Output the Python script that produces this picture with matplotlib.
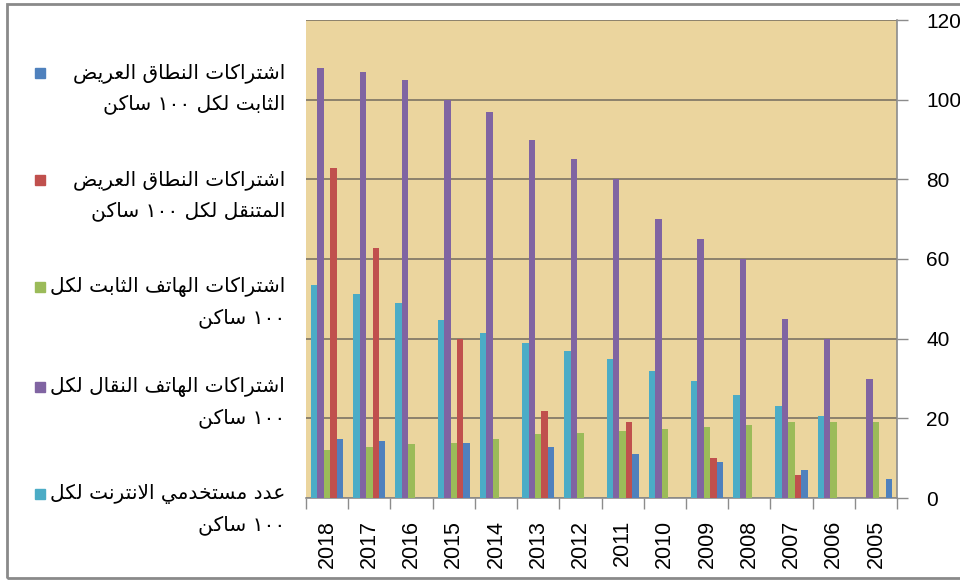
import numpy as np
import matplotlib
matplotlib.use('Agg')
import matplotlib.pyplot as plt
from matplotlib.patches import Rectangle

# data (per 100 inhabitants), years left to right as drawn
years = ['2018', '2017', '2016', '2015', '2014', '2013', '2012',
         '2011', '2010', '2009', '2008', '2007', '2006', '2005']
internet_users = [53.5, 51.3, 48.9, 44.7, 41.5, 39.0, 37.0, 34.8, 32.0, 29.3, 25.8, 23.2, 20.6, 0]
mobile_phone = [108, 107, 105, 100, 97, 90, 85, 80, 70, 65, 60, 45, 40, 30]
fixed_phone = [12.0, 12.9, 13.5, 13.7, 14.7, 16.0, 16.2, 16.8, 17.3, 17.9, 18.3, 19.0, 19.0, 19.0]
mobile_broadband = [82.8, 62.7, 0, 39.9, 0, 21.9, 0, 19.0, 0, 10.0, 0, 5.8, 0, 0]
fixed_broadband = [14.8, 14.4, 0, 13.7, 0, 12.9, 0, 11.0, 0, 9.0, 0, 7.0, 0, 4.8]

yticks = [0, 20, 40, 60, 80, 100, 120]

# legend labels (two lines each), top to bottom
legend_labels = [
    ['اشتراكات النطاق العريض', 'الثابت لكل ١٠٠ ساكن'],
    ['اشتراكات النطاق العريض', 'المتنقل لكل ١٠٠ ساكن'],
    ['اشتراكات الهاتف الثابت لكل', '١٠٠ ساكن'],
    ['اشتراكات الهاتف النقال لكل', '١٠٠ ساكن'],
    ['عدد مستخدمي الانترنت لكل', '١٠٠ ساكن'],
]

c_blue = '#4F81BD'
c_red = '#C0504D'
c_green = '#9BBB59'
c_purple = '#8064A2'
c_cyan = '#4BACC6'

# --- tiny arabic shaper: matplotlib has no shaping / bidi ---
FORMS = {
    'ا': ('\ufe8d', '\ufe8e', None, None),
    'ب': ('\ufe8f', '\ufe90', '\ufe91', '\ufe92'),
    'ت': ('\ufe95', '\ufe96', '\ufe97', '\ufe98'),
    'ث': ('\ufe99', '\ufe9a', '\ufe9b', '\ufe9c'),
    'خ': ('\ufea5', '\ufea6', '\ufea7', '\ufea8'),
    'د': ('\ufea9', '\ufeaa', None, None),
    'ر': ('\ufead', '\ufeae', None, None),
    'س': ('\ufeb1', '\ufeb2', '\ufeb3', '\ufeb4'),
    'ش': ('\ufeb5', '\ufeb6', '\ufeb7', '\ufeb8'),
    'ض': ('\ufebd', '\ufebe', '\ufebf', '\ufec0'),
    'ط': ('\ufec1', '\ufec2', '\ufec3', '\ufec4'),
    'ع': ('\ufec9', '\ufeca', '\ufecb', '\ufecc'),
    'ف': ('\ufed1', '\ufed2', '\ufed3', '\ufed4'),
    'ق': ('\ufed5', '\ufed6', '\ufed7', '\ufed8'),
    'ك': ('\ufed9', '\ufeda', '\ufedb', '\ufedc'),
    'ل': ('\ufedd', '\ufede', '\ufedf', '\ufee0'),
    'م': ('\ufee1', '\ufee2', '\ufee3', '\ufee4'),
    'ن': ('\ufee5', '\ufee6', '\ufee7', '\ufee8'),
    'ه': ('\ufee9', '\ufeea', '\ufeeb', '\ufeec'),
    'ي': ('\ufef1', '\ufef2', '\ufef3', '\ufef4'),
}
LAM_ALEF = ('\ufefb', '\ufefc', None, None)


def shape_word(word):
    toks = []
    i = 0
    while i < len(word):
        c = word[i]
        if c == 'ل' and i + 1 < len(word) and word[i + 1] == 'ا':
            toks.append(LAM_ALEF)
            i += 2
        else:
            toks.append(FORMS.get(c, (c, c, None, None)))
            i += 1
    out = []
    for k, f in enumerate(toks):
        prev = k > 0 and toks[k - 1][2] is not None
        nxt = k + 1 < len(toks) and f[2] is not None
        if prev and nxt:
            out.append(f[3])
        elif prev:
            out.append(f[1])
        elif nxt:
            out.append(f[2])
        else:
            out.append(f[0])
    return ''.join(reversed(out))


def rtl(line):
    words = line.split(' ')
    return ' '.join(w if w.isdigit() else shape_word(w) for w in reversed(words))


W, H = 960, 581
fig = plt.figure(figsize=(9.6, 5.81), dpi=100)
fig.patch.set_facecolor('white')

ax = fig.add_axes([306 / W, 83 / H, 591 / W, 478 / H])
ax.set_facecolor('#EBD59E')

x = np.arange(len(years))
w = 0.152
series = [(internet_users, c_cyan), (mobile_phone, c_purple), (fixed_phone, c_green),
          (mobile_broadband, c_red), (fixed_broadband, c_blue)]
for i, (vals, col) in enumerate(series):
    ax.bar(x + (i - 2) * w, vals, w, color=col, zorder=3, linewidth=0)

ax.set_xlim(-0.5, len(years) - 0.5)
ax.set_ylim(0, 120)
ax.yaxis.tick_right()
ax.set_yticks(yticks)
ax.set_yticklabels([str(v) for v in yticks], fontsize=15, family='Liberation Sans')
ax.tick_params(axis='y', direction='out', length=8, width=1, color='#8c8c8c', pad=13)
ax.yaxis.grid(True, color='#857b68', linewidth=1.3, zorder=1)
ax.set_axisbelow(True)

ax.set_xticks(x)
ax.set_xticklabels(years, rotation=90, fontsize=15.5, family='Liberation Sans')
ax.set_xticks(np.arange(-0.5, len(years)), minor=True)
ax.tick_params(axis='x', which='major', length=0, pad=16)
ax.tick_params(axis='x', which='minor', direction='out', length=8, width=1, color='#8c8c8c')

for s in ['top', 'left']:
    ax.spines[s].set_visible(False)
for s in ['right', 'bottom']:
    ax.spines[s].set_color('#8c8c8c')
    ax.spines[s].set_linewidth(1.2)

# legend drawn by hand (rtl labels, square on the left)
leg_colors = [c_blue, c_red, c_green, c_purple, c_cyan]
leg_y = [73, 180, 287, 387, 494]
for lab, col, yy in zip(legend_labels, leg_colors, leg_y):
    fig.add_artist(Rectangle((35 / W, 1 - (yy + 5) / H), 10 / W, 10 / H,
                             transform=fig.transFigure, color=col))
    for j, line in enumerate(lab):
        fig.text(285 / W, 1 - (yy + j * 31) / H, rtl(line), ha='right', va='center',
                 fontsize=14.5, family=['DejaVu Sans'])

# outer chart frame
fig.add_artist(Rectangle((7 / W, 3 / H), 1.0, 574 / H, transform=fig.transFigure,
                         fill=False, edgecolor='#8a8a8a', linewidth=2))

fig.savefig('out.png', dpi=100)
